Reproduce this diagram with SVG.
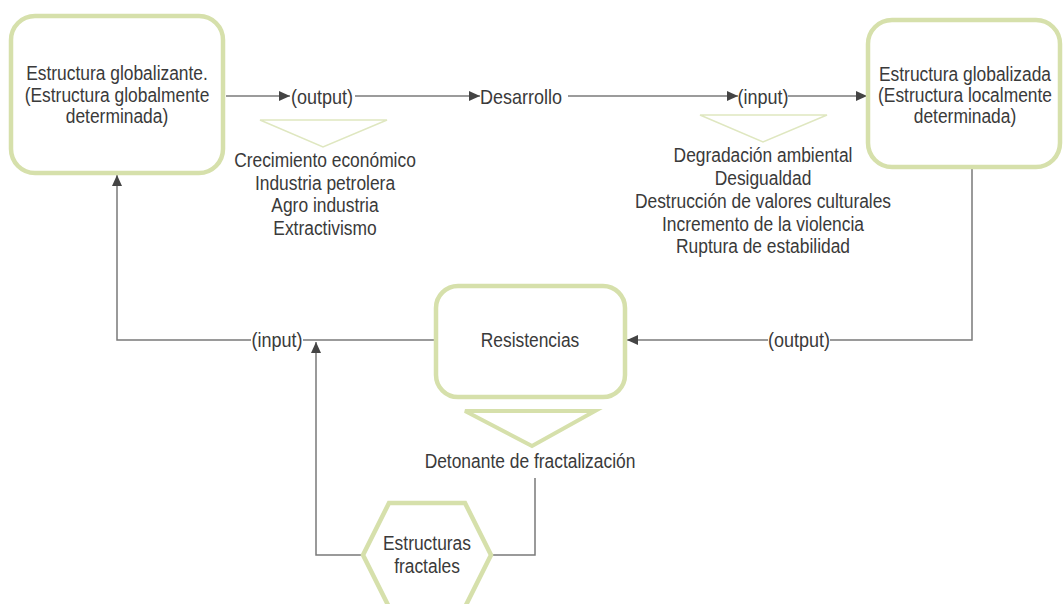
<svg xmlns="http://www.w3.org/2000/svg" width="1063" height="604" viewBox="0 0 1063 604">
<defs>
<marker id="ah" viewBox="0 0 11 10" refX="11" refY="5" markerWidth="11" markerHeight="10" markerUnits="userSpaceOnUse" orient="auto">
<path d="M0,0 L11,5 L0,10 Z" fill="#444"/>
</marker>
<style>
.box{fill:#fff;stroke:#d6e0ab;stroke-width:4.5}
.tri{fill:none;stroke:#dfe7c0;stroke-width:1.5}
.tri2{fill:none;stroke:#d6e0ab;stroke-width:4}
.ln{fill:none;stroke:#7a7a7a;stroke-width:1.5}
text{font-family:"Liberation Sans",Arial,sans-serif;font-size:20px;fill:#3a3a3a;text-anchor:middle}
</style>
</defs>
<rect width="1063" height="604" fill="#fff"/>
<g id="connectors">
<path class="ln" d="M226,96 H290" marker-end="url(#ah)"/>
<path class="ln" d="M355,96 H480" marker-end="url(#ah)"/>
<path class="ln" d="M568,96 H738" marker-end="url(#ah)"/>
<path class="ln" d="M788,96 H867" marker-end="url(#ah)"/>
<path class="ln" d="M251,340 H117 V175" marker-end="url(#ah)"/>
<path class="ln" d="M303,340 H434"/>
<path class="ln" d="M972,168 V340 H830"/>
<path class="ln" d="M768,340 H627" marker-end="url(#ah)"/>
<path class="ln" d="M363,555 H316 V342" marker-end="url(#ah)"/>
<path class="ln" d="M492,555 H535 V478"/>
<text transform="translate(322,104) scale(0.9,1)">(output)</text>
<text transform="translate(521,104) scale(0.9,1)">Desarrollo</text>
<text transform="translate(763,104) scale(0.9,1)">(input)</text>
<text transform="translate(277,347) scale(0.9,1)">(input)</text>
<text transform="translate(799,347) scale(0.9,1)">(output)</text>
</g>
<g id="n1">
<rect class="box" x="11" y="16" width="212" height="157" rx="24"/>
<text transform="translate(117,80) scale(0.87,1)">Estructura globalizante.</text>
<text transform="translate(117,102) scale(0.87,1)">(Estructura globalmente</text>
<text transform="translate(117,123) scale(0.87,1)">determinada)</text>
</g>
<g id="n2">
<rect class="box" x="868" y="20" width="192" height="147" rx="24"/>
<text transform="translate(965,81) scale(0.87,1)">Estructura globalizada</text>
<text transform="translate(965,102) scale(0.87,1)">(Estructura localmente</text>
<text transform="translate(965,123) scale(0.87,1)">determinada)</text>
</g>
<g id="t1">
<path class="tri" d="M260,120 H387 L323,147 Z"/>
<text transform="translate(325,167) scale(0.87,1)">Crecimiento económico</text>
<text transform="translate(325,190) scale(0.87,1)">Industria petrolera</text>
<text transform="translate(325,212) scale(0.87,1)">Agro industria</text>
<text transform="translate(325,235) scale(0.87,1)">Extractivismo</text>
</g>
<g id="t2">
<path class="tri" d="M700,115 H827 L763,142 Z"/>
<text transform="translate(763,162) scale(0.87,1)">Degradación ambiental</text>
<text transform="translate(763,185) scale(0.87,1)">Desigualdad</text>
<text transform="translate(763,208) scale(0.87,1)">Destrucción de valores culturales</text>
<text transform="translate(763,231) scale(0.87,1)">Incremento de la violencia</text>
<text transform="translate(763,253) scale(0.87,1)">Ruptura de estabilidad</text>
</g>
<g id="n3">
<rect class="box" x="436" y="286" width="189" height="111" rx="22"/>
<text transform="translate(530,347) scale(0.87,1)">Resistencias</text>
</g>
<g id="t3">
<path class="tri2" d="M465,411 H595 L532,446 Z"/>
<text transform="translate(530,468) scale(0.87,1)">Detonante de fractalización</text>
</g>
<g id="n4">
<path class="box" d="M389,503 H465 L491,555 L465,607 H389 L363,555 Z"/>
<text transform="translate(427,550) scale(0.87,1)">Estructuras</text>
<text transform="translate(427,573) scale(0.87,1)">fractales</text>
</g>
</svg>
